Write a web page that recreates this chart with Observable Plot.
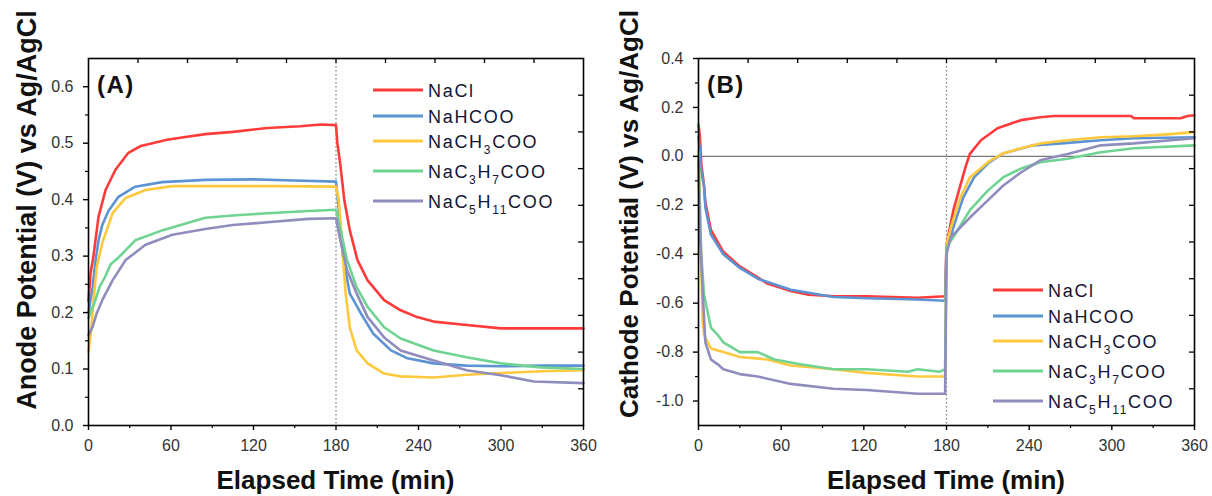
<!DOCTYPE html>
<html><head><meta charset="utf-8">
<script src="https://cdn.jsdelivr.net/npm/d3@7"></script>
<script src="https://cdn.jsdelivr.net/npm/@observablehq/plot@0.6"></script>
<style>
body{margin:0;background:#fff;}
#wrap{display:flex;width:1212px;height:496px;overflow:hidden;}
#wrap svg{display:block;}
</style>
</head><body><div id="wrap"></div>
<script>
// ---- series ----
const seriesNames = ["NaCl","NaHCOO","NaCH3COO","NaC3H7COO","NaC5H11COO"];
const seriesColors = ["#ff3a3a","#5b93d3","#ffc93e","#6fd392","#8f8dbd"];
// legend label parts: odd indices are subscripts
const legendParts = [["NaCl"],["NaHCOO"],["NaCH","3","COO"],["NaC","3","H","7","COO"],["NaC","5","H","11","COO"]];

// ---- panel A: anode potential [time (min), V] ----
const anodeNaCl = [[0,0.22],[1.5,0.27],[3.6,0.30],[7.3,0.37],[12.4,0.417],[19.6,0.453],[29,0.483],[38,0.495],[46.5,0.50],[57,0.506],[70.5,0.511],[85,0.516],[105,0.52],[130,0.527],[154,0.53],[169,0.533],[180,0.532],[181,0.50],[183,0.465],[186,0.40],[190,0.346],[195.6,0.293],[203,0.257],[215,0.222],[227,0.204],[239,0.192],[251,0.184],[275,0.178],[300,0.172],[330,0.172],[360,0.172]];
const anodeNaHCOO = [[0,0.20],[1,0.215],[3,0.245],[5,0.29],[7.3,0.328],[10,0.355],[14.5,0.38],[21.8,0.405],[34,0.423],[53.5,0.431],[85,0.435],[120,0.436],[150,0.434],[180,0.432],[183,0.36],[185,0.30],[190,0.234],[198,0.199],[207,0.163],[220,0.133],[232,0.119],[251,0.110],[275,0.106],[300,0.105],[330,0.106],[360,0.106]];
const anodeNaCH3COO = [[0,0.13],[2,0.17],[4,0.23],[6,0.28],[10,0.323],[17.5,0.376],[27,0.403],[41.5,0.417],[61,0.424],[100,0.424],[140,0.424],[180,0.423],[182,0.40],[185,0.30],[187,0.234],[190,0.174],[195,0.133],[203,0.110],[215,0.092],[227,0.087],[251,0.085],[275,0.09],[300,0.093],[330,0.096],[360,0.098]];
const anodeNaC3H7COO = [[0,0.19],[3,0.21],[5,0.222],[8,0.245],[12,0.263],[16,0.285],[22,0.298],[34,0.328],[54,0.346],[85,0.368],[105,0.372],[130,0.376],[160,0.38],[180,0.382],[183,0.35],[188,0.293],[195,0.245],[203,0.21],[215,0.174],[227,0.154],[251,0.133],[275,0.121],[300,0.11],[329,0.103],[360,0.10]];
const anodeNaC5H11COO = [[0,0.16],[3,0.175],[6,0.199],[10,0.222],[17.5,0.257],[27,0.293],[41.5,0.32],[61,0.338],[85,0.348],[105,0.355],[130,0.36],[160,0.366],[180,0.367],[183,0.33],[188,0.275],[195,0.234],[203,0.192],[215,0.156],[227,0.133],[251,0.115],[275,0.098],[300,0.089],[324,0.078],[360,0.075]];

// ---- panel B: cathode potential [time (min), V] ----
const cathodeNaCl = [[0,0.13],[1,0.08],[2,-0.03],[4,-0.12],[5,-0.19],[9,-0.30],[18,-0.39],[30,-0.45],[43,-0.495],[50,-0.52],[67,-0.55],[80,-0.565],[98,-0.572],[122,-0.572],[159,-0.578],[179,-0.572],[180,-0.36],[185,-0.22],[190,-0.12],[194,-0.04],[197,0.01],[205,0.066],[217,0.115],[234,0.148],[248,0.16],[258,0.165],[314,0.165],[316,0.156],[350,0.156],[355,0.165],[360,0.168]];
const cathodeNaHCOO = [[0,0.08],[1,0.02],[2,-0.06],[4,-0.12],[5,-0.21],[9,-0.32],[18,-0.40],[30,-0.456],[43,-0.50],[67,-0.545],[98,-0.575],[122,-0.58],[159,-0.585],[179,-0.59],[180,-0.38],[183,-0.33],[185,-0.29],[192,-0.17],[200,-0.086],[210,-0.029],[221,0.012],[243,0.045],[268,0.055],[292,0.066],[316,0.074],[360,0.078]];
const cathodeNaCH3COO = [[0,0.02],[1,-0.2],[2,-0.45],[3,-0.67],[4,-0.73],[9,-0.785],[18,-0.80],[30,-0.82],[50,-0.83],[67,-0.855],[98,-0.87],[122,-0.885],[159,-0.90],[179,-0.90],[180,-0.36],[184,-0.276],[190,-0.17],[197,-0.086],[210,-0.024],[221,0.012],[234,0.033],[248,0.053],[268,0.066],[292,0.078],[316,0.082],[340,0.09],[360,0.099]];
const cathodeNaC3H7COO = [[0,0.0],[1,-0.2],[2,-0.4],[4,-0.565],[9,-0.70],[14,-0.73],[18,-0.76],[30,-0.80],[43,-0.80],[55,-0.83],[74,-0.85],[98,-0.87],[122,-0.87],[152,-0.88],[159,-0.87],[175,-0.88],[179,-0.87],[180,-0.37],[185,-0.33],[197,-0.22],[210,-0.14],[221,-0.086],[234,-0.05],[248,-0.024],[268,-0.01],[292,0.017],[316,0.033],[360,0.045]];
const cathodeNaC5H11COO = [[0,-0.02],[1,-0.3],[3,-0.55],[5,-0.76],[9,-0.83],[14,-0.85],[18,-0.87],[30,-0.89],[43,-0.90],[67,-0.93],[98,-0.95],[122,-0.955],[159,-0.97],[179,-0.97],[180,-0.40],[183,-0.33],[185,-0.32],[197,-0.25],[210,-0.18],[221,-0.12],[234,-0.066],[248,-0.016],[268,0.01],[292,0.045],[316,0.053],[360,0.074]];

// ---- ticks ----
const xMajor = [0,60,120,180,240,300,360];
const xMinor = [30,90,150,210,270,330];
const xTop = [36,72,108,144,180,216,252,288,324];
const anodeYMajor = [0.0,0.1,0.2,0.3,0.4,0.5,0.6];
const anodeYMinor = [0.05,0.15,0.25,0.35,0.45,0.55];
const anodeYRight = [0.065,0.13,0.195,0.26,0.325,0.39,0.455,0.52,0.585];
const cathodeYMajor = [-1.0,-0.8,-0.6,-0.4,-0.2,0.0,0.2,0.4];
const cathodeYMinor = [-0.9,-0.7,-0.5,-0.3,-0.1,0.1,0.3];
const cathodeYRight = [-0.95,-0.8,-0.65,-0.5,-0.35,-0.2,-0.05,0.1,0.25];

const xTitle = "Elapsed Time (min)";
const FONT = "'Liberation Sans', Arial, sans-serif";

function makePanel(cfg){
  const rows = [];
  cfg.data.forEach((arr,i)=>arr.forEach(([t,v])=>rows.push({series:seriesNames[i],t,v})));
  const W = 606, H = 496, mt = 58, mb = 71;
  const fw = W - cfg.ml - cfg.mr, fh = H - mt - mb;
  const plot = Plot.plot({
    width: W, height: H,
    marginLeft: cfg.ml, marginRight: cfg.mr, marginTop: mt, marginBottom: mb,
    style: {fontFamily: FONT, fontSize: "16px", color: "#000", background: "#fff"},
    x: {domain: [0,360]},
    y: {domain: cfg.yDomain},
    color: {domain: seriesNames, range: seriesColors},
    marks: [
      cfg.zeroLine ? Plot.ruleY([0], {stroke: "#777", strokeWidth: 1.4}) : null,
      Plot.ruleX([180], {stroke: "#777", strokeWidth: 1.2, strokeDasharray: "1.5,2.5"}),
      Plot.line(rows, {x: "t", y: "v", z: "series", stroke: "series", strokeWidth: 2.6, strokeLinejoin: "round"}),
      Plot.axisX({ticks: xMajor, tickSize: 5, tickPadding: 9, strokeWidth: 1.4, tickFormat: d => String(d), label: null, fill: "#333"}),
      Plot.axisX({ticks: xMinor, tickSize: 3, strokeWidth: 1.2, tickFormat: () => "", label: null}),
      Plot.axisY({ticks: cfg.yMajor, tickSize: 5, tickPadding: 10, strokeWidth: 1.4, tickFormat: d => d.toFixed(1), label: null, fill: "#333"}),
      Plot.axisY({ticks: cfg.yMinor, tickSize: 3, strokeWidth: 1.2, tickFormat: () => "", label: null}),
      Plot.tickX(xTop, {x: d => d, insetBottom: fh - 5, stroke: "#000", strokeWidth: 1.3}),
      Plot.tickY(cfg.yRight, {y: d => d, insetLeft: fw - 5, stroke: "#000", strokeWidth: 1.3}),
      Plot.frame({stroke: "#000", strokeWidth: 1.6})
    ]
  });
  const svg = d3.select(plot);
  // axis titles
  svg.append("text").attr("x", cfg.ml + fw/2).attr("y", 489)
    .attr("text-anchor","middle").attr("font-size",26).attr("font-weight","bold")
    .attr("fill","#111").attr("font-family",FONT).text(xTitle);
  svg.append("text").attr("transform",`translate(${cfg.yTitleX},${cfg.yTitleY}) rotate(-90)`)
    .attr("text-anchor","middle").attr("font-size",cfg.yTitleSize).attr("font-weight","bold")
    .attr("fill","#111").attr("font-family",FONT).text(cfg.yTitle);
  // panel tag
  svg.append("text").attr("x", cfg.tagX).attr("y", 93).attr("text-anchor","start")
    .attr("font-size",24).attr("font-weight","bold").attr("letter-spacing",1.5)
    .attr("fill","#111").attr("font-family",FONT).text(cfg.tag);
  // legend
  const offs = [0,26,51,81,111];
  const lg = svg.append("g").attr("transform",`translate(${cfg.legX},${cfg.legY})`);
  legendParts.forEach((parts,i)=>{
    const y = offs[i];
    lg.append("line").attr("x1",0).attr("x2",50).attr("y1",y).attr("y2",y)
      .attr("stroke",seriesColors[i]).attr("stroke-width",3);
    const t = lg.append("text").attr("x",55).attr("y",y+7).attr("text-anchor","start")
      .attr("font-size",18).attr("letter-spacing",1.7).attr("fill","#141433").attr("font-family",FONT);
    let sub = false;
    parts.forEach((p,j)=>{
      const isSub = j % 2 === 1;
      const ts = t.append("tspan").text(p);
      if (isSub && !sub) { ts.attr("dy",6).attr("font-size",12); sub = true; }
      else if (isSub) { ts.attr("font-size",12); }
      else if (sub) { ts.attr("dy",-6); sub = false; }
    });
  });
  return plot;
}

const wrap = document.getElementById("wrap");
wrap.appendChild(makePanel({
  data: [anodeNaCl, anodeNaHCOO, anodeNaCH3COO, anodeNaC3H7COO, anodeNaC5H11COO],
  ml: 88, mr: 23, yDomain: [0,0.65],
  yMajor: anodeYMajor, yMinor: anodeYMinor, yRight: anodeYRight,
  zeroLine: false,
  yTitle: "Anode Potential (V) vs Ag/AgCl", yTitleX: 36, yTitleY: 210, yTitleSize: 27,
  tag: "(A)", tagX: 97, legX: 373, legY: 90
}));
wrap.appendChild(makePanel({
  data: [cathodeNaCl, cathodeNaHCOO, cathodeNaCH3COO, cathodeNaC3H7COO, cathodeNaC5H11COO],
  ml: 92, mr: 18, yDomain: [-1.1,0.4],
  yMajor: cathodeYMajor, yMinor: cathodeYMinor, yRight: cathodeYRight,
  zeroLine: true,
  yTitle: "Cathode Potential (V) vs Ag/AgCl", yTitleX: 32, yTitleY: 214, yTitleSize: 26,
  tag: "(B)", tagX: 101, legX: 387, legY: 290
}));
</script>
</body></html>
